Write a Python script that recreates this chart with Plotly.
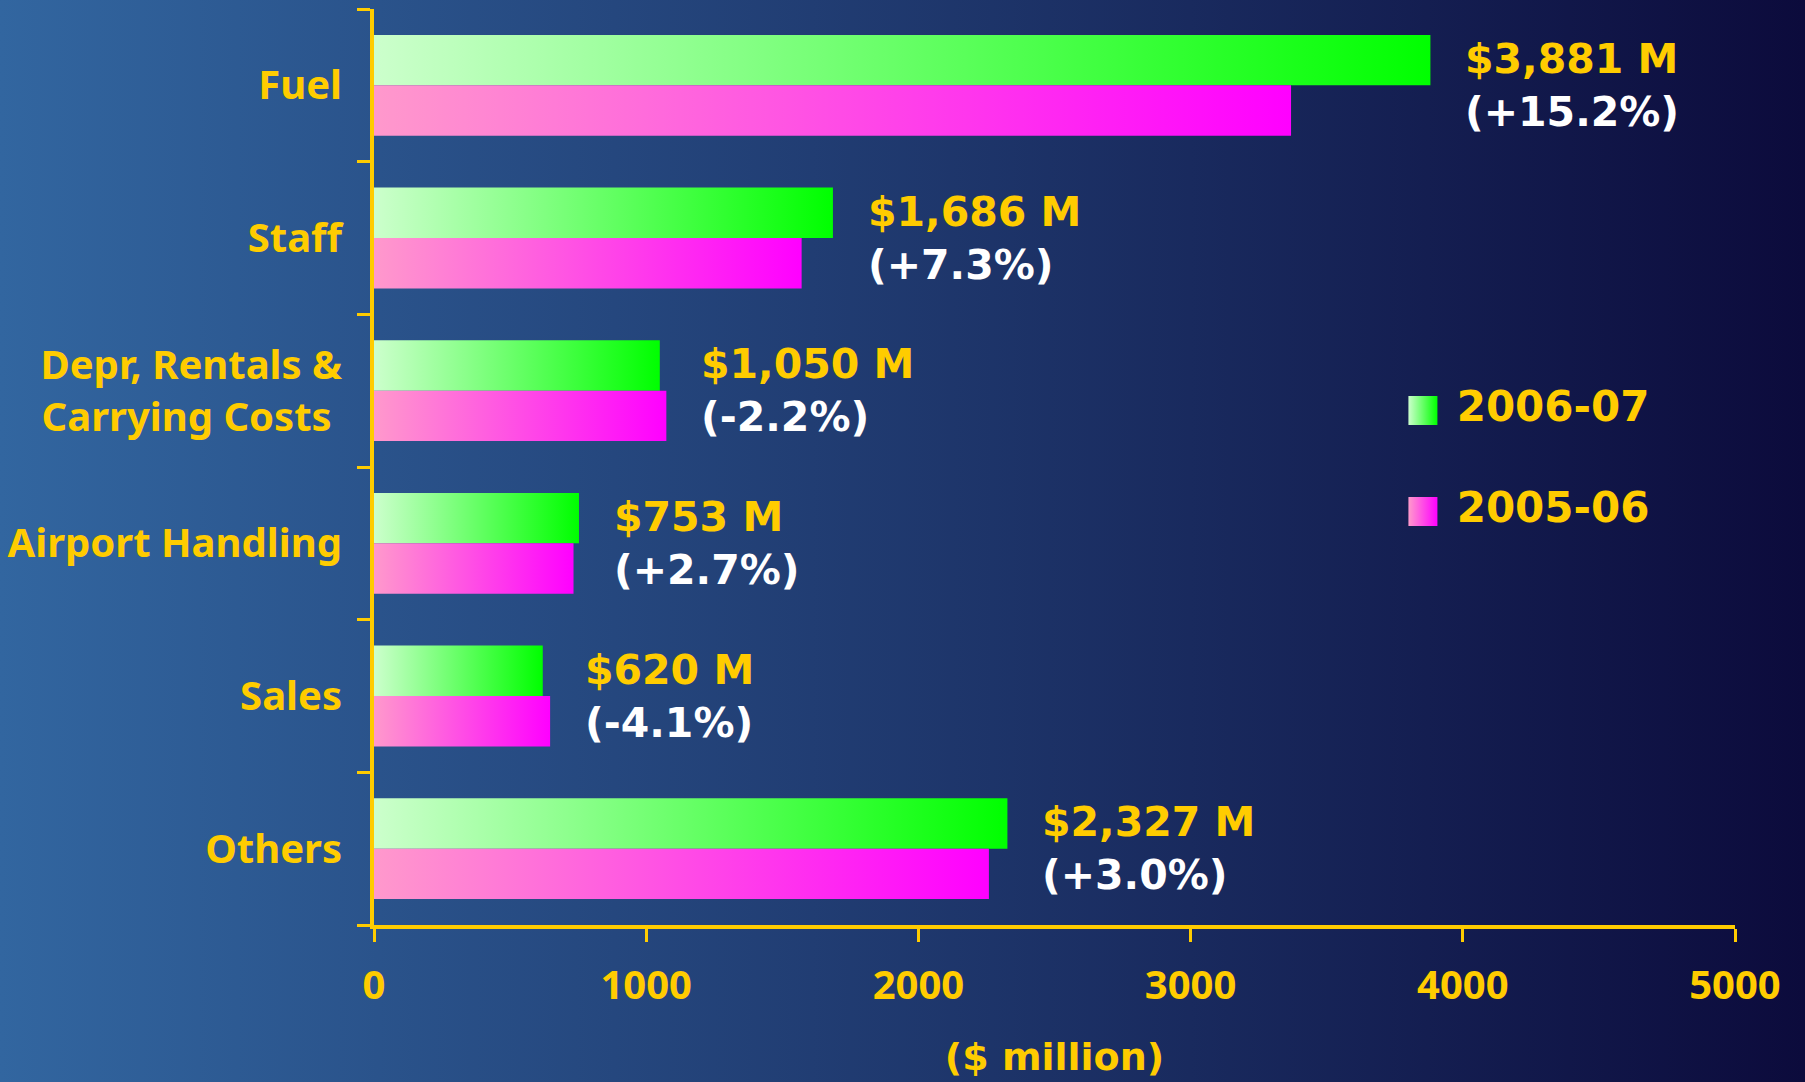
import base64
import plotly.graph_objects as go

# cost categories, top to bottom
categories = ["Fuel", "Staff", "Depr, Rentals &<br>Carrying Costs\u00a0",
              "Airport Handling", "Sales", "Others"]
cost_0607 = [3881, 1686, 1050, 753, 620, 2327]   # $ million
cost_0506 = [3369, 1571, 1074, 733, 647, 2259]   # $ million
pct_change = [15.2, 7.3, -2.2, 2.7, -4.1, 3.0]
series_names = ["2006-07", "2005-06"]
x_ticks = [0, 1000, 2000, 3000, 4000, 5000]

YELLOW = "#ffcc00"
GREEN_SCALE = [[0, "#ccffcc"], [1, "#00ff00"]]
PINK_SCALE = [[0, "#ff99cc"], [1, "#ff00ff"]]
BAR = 0.33  # bar thickness in category units

W, H = 1805, 1082
L, R, T, B = 374, 70, 9, 157
PW, PH = W - L - R, H - T - B

fig = go.Figure()


def add_bar(val, pos, top, scale, name):
    # horizontal bar drawn as a filled shape so it can carry a gradient
    y0, y1 = (pos - BAR, pos) if top else (pos, pos + BAR)
    fig.add_trace(go.Scatter(
        x=[0, val, val, 0, 0],
        y=[y0, y0, y1, y1, y0],
        mode="lines",
        fill="toself",
        fillgradient=dict(type="horizontal", colorscale=scale),
        line=dict(width=0),
        name=name,
        showlegend=False,
        hoverinfo="text",
        hoveron="fills",
        text=f"{name}: ${val:,} M",
    ))


for i, (v_new, v_old) in enumerate(zip(cost_0607, cost_0506)):
    add_bar(v_new, i, True, GREEN_SCALE, series_names[0])
    add_bar(v_old, i, False, PINK_SCALE, series_names[1])

annotations = []
for i, (v_new, v_old, p) in enumerate(zip(cost_0607, cost_0506, pct_change)):
    annotations.append(dict(
        x=max(v_new, v_old), y=i, xref="x", yref="y",
        xanchor="left", yanchor="middle", xshift=33, align="left",
        showarrow=False,
        text=f"<span style='color:{YELLOW}'>${v_new:,} M</span><br>({p:+.1f}%)",
        font=dict(family="DejaVu Sans", weight="bold", size=41, color="white"),
    ))

# legend: gradient squares with labels on a hidden little axis pair
fig.add_trace(go.Scatter(
    x=[0, 0], y=[0, 1],
    xaxis="x2", yaxis="y2",
    mode="markers+text",
    marker=dict(symbol="square", size=29,
                color=["#ccffcc", "#ff99cc"],
                gradient=dict(type="horizontal", color=["#00ff00", "#ff00ff"])),
    text=["\u00a0" + s for s in series_names],
    textposition="middle right",
    textfont=dict(family="DejaVu Sans", weight="bold", size=42, color=YELLOW),
    cliponaxis=False,
    showlegend=False,
    hoverinfo="skip",
))

svg = (
    f'<svg xmlns="http://www.w3.org/2000/svg" width="{W}" height="{H}" '
    f'preserveAspectRatio="none">'
    '<defs><linearGradient id="g" x1="0" y1="0" x2="1" y2="0">'
    '<stop offset="0" stop-color="#3266a0"/>'
    '<stop offset="1" stop-color="#0c0b3c"/>'
    '</linearGradient></defs>'
    '<rect width="100%" height="100%" fill="url(#g)"/></svg>'
)
bg_src = "data:image/svg+xml;base64," + base64.b64encode(svg.encode()).decode()

fig.update_layout(
    width=W, height=H,
    margin=dict(l=L, r=R, t=T, b=B, pad=0),
    paper_bgcolor="rgba(0,0,0,0)",
    plot_bgcolor="rgba(0,0,0,0)",
    showlegend=False,
    images=[dict(
        source=bg_src, xref="paper", yref="paper",
        x=-L / PW, y=1 + T / PH, sizex=W / PW, sizey=H / PH,
        xanchor="left", yanchor="top", sizing="stretch", layer="below",
    )],
    annotations=annotations,
    xaxis=dict(
        range=[0, 5000], tickvals=x_ticks,
        showline=True, linecolor=YELLOW, linewidth=4,
        ticks="outside", ticklen=13, tickwidth=3, tickcolor=YELLOW,
        showgrid=False, zeroline=False,
        tickfont=dict(family="Noto Sans", weight="bold", size=40, color=YELLOW),
        ticklabelstandoff=9,
        title=dict(text="($ million)", standoff=34,
                   font=dict(family="DejaVu Sans", weight="bold", size=38, color=YELLOW)),
    ),
    yaxis=dict(
        range=[5.5, -0.5],
        tickvals=list(range(len(categories))), ticktext=categories,
        showline=True, linecolor=YELLOW, linewidth=4,
        ticks="", showgrid=False, zeroline=False,
        minor=dict(ticks="outside", tickmode="array",
                   tickvals=[k - 0.5 for k in range(len(categories) + 1)],
                   ticklen=13, tickwidth=3, tickcolor=YELLOW, showgrid=False),
        tickfont=dict(family="Noto Sans", weight="bold", size=40, color=YELLOW),
        ticklabelstandoff=20,
    ),
    xaxis2=dict(domain=[0.7707, 0.95], range=[0, 1], visible=False),
    yaxis2=dict(domain=[0.4514, 0.5617], range=[1, 0], visible=False, anchor="x2"),
)

fig.write_html(
    "out.html",
    config={"displayModeBar": False},
    post_script="document.body.style.margin='0';document.body.style.overflow='hidden';",
)
